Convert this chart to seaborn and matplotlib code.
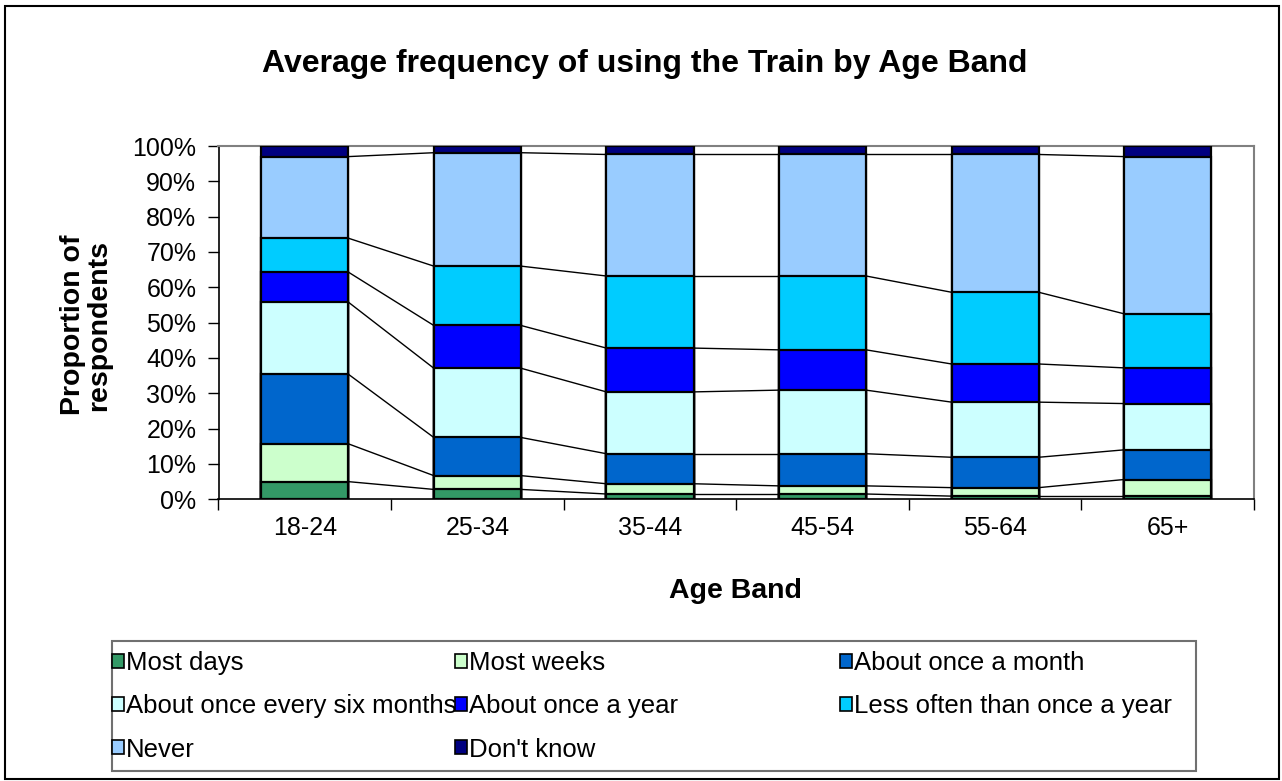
import pandas as pd
import numpy as np
import matplotlib.pyplot as plt
import matplotlib.patches as mpatches
import seaborn as sns

# Datos (porcentaje de encuestados)
age_bands = ['18-24', '25-34', '35-44', '45-54', '55-64', '65+']
categories = ['Most days', 'Most weeks', 'About once a month',
              'About once every six months', 'About once a year',
              'Less often than once a year', 'Never', "Don't know"]
most_days = [5.0, 2.8, 1.5, 1.5, 0.9, 0.9]
most_weeks = [10.7, 3.9, 2.9, 2.3, 2.4, 4.7]
once_month = [19.7, 10.8, 8.5, 9.1, 8.6, 8.4]
six_months = [20.4, 19.6, 17.5, 18.0, 15.6, 13.1]
once_year = [8.5, 12.1, 12.4, 11.4, 10.8, 10.1]
less_often = [9.6, 16.8, 20.4, 20.9, 20.3, 15.3]
never = [23.1, 32.1, 34.4, 34.4, 39.0, 44.5]
dont_know = [3.0, 1.9, 2.4, 2.4, 2.4, 3.0]
colors = ['#339966', '#CCFFCC', '#0066CC', '#CCFFFF',
          '#0000FF', '#00CCFF', '#99CCFF', '#000080']

series = [most_days, most_weeks, once_month, six_months,
          once_year, less_often, never, dont_know]
cum = np.cumsum(np.array(series), axis=0)

rows = []
for k, cat in enumerate(categories):
    for i, age in enumerate(age_bands):
        rows.append({'age': age, 'category': cat, 'cum': cum[k][i]})
df = pd.DataFrame(rows)

sns.set_theme(style='ticks')
plt.rcParams['font.family'] = ['Liberation Sans', 'DejaVu Sans']
plt.rcParams['text.color'] = 'black'
plt.rcParams['axes.labelcolor'] = 'black'

W, H = 1282, 781
fig = plt.figure(figsize=(W / 100, H / 100), dpi=100)
ax = fig.add_axes([218.5 / W, 1 - 499.3 / H, (1254 - 218.5) / W, (499.3 - 146) / H])

bar_w = 0.505
# barras apiladas: se dibuja desde la acumulada mas alta hacia abajo
for k in range(len(categories) - 1, -1, -1):
    sub = df[df['category'] == categories[k]]
    sns.barplot(data=sub, x='age', y='cum', color=colors[k], saturation=1,
                width=bar_w, edgecolor='black', linewidth=1.6, ax=ax, zorder=3)

# lineas de serie entre barras
for k in range(len(categories) - 1):
    for i in range(len(age_bands) - 1):
        ax.plot([i + bar_w / 2, i + 1 - bar_w / 2], [cum[k][i], cum[k][i + 1]],
                color='black', lw=1, zorder=2)

ax.set_xlim(-0.5, 5.5)
ax.set_ylim(0, 100)
ax.set_xlabel('')
ax.set_ylabel('')
ax.set_yticks(range(0, 101, 10))
ax.set_yticklabels([f'{v}%' for v in range(0, 101, 10)])
ax.set_xticks(range(6))
ax.set_xticklabels(age_bands)
ax.set_xticks(np.arange(-0.5, 6, 1), minor=True)
ax.tick_params(axis='y', direction='out', length=8, width=1, color='black',
               pad=8, labelsize=18, labelcolor='black')
ax.tick_params(axis='x', which='major', length=0, pad=12, labelsize=18, labelcolor='black')
ax.tick_params(axis='x', which='minor', direction='out', length=8, width=1, color='black')
for s in ['left', 'bottom']:
    ax.spines[s].set_color('black')
    ax.spines[s].set_linewidth(1.2)
for s in ['top', 'right']:
    ax.spines[s].set_visible(True)
    ax.spines[s].set_color('#808080')
    ax.spines[s].set_linewidth(1.5)

fig.text(645 / W, 1 - 72 / H, 'Average frequency of using the Train by Age Band',
         ha='center', va='baseline', fontsize=23, fontweight='bold', color='black')
fig.text(735 / W, 1 - 598 / H, 'Age Band', ha='center', va='baseline',
         fontsize=20.5, fontweight='bold', color='black')
fig.text(86 / W, 1 - 325 / H, 'Proportion of\nrespondents', ha='center', va='center',
         rotation=90, fontsize=20.5, fontweight='bold', linespacing=1.0,
         multialignment='center', color='black')

# leyenda en tres columnas
handles = [mpatches.Patch(facecolor=c, edgecolor='black', linewidth=1.2) for c in colors]
col_items = [[0, 3, 6], [1, 4, 7], [2, 5]]
col_x = [112, 455, 840]
for items, x0 in zip(col_items, col_x):
    fig.legend([handles[i] for i in items], [categories[i] for i in items],
               loc='upper left', bbox_to_anchor=(x0 / W, 1 - 651 / H),
               frameon=False, fontsize=18.5, handlelength=0.45, handleheight=0.45,
               handletextpad=0.08, labelspacing=0.75, borderpad=0, borderaxespad=0,
               labelcolor='black')

fig.patches.append(mpatches.Rectangle((112 / W, 1 - 771 / H), (1196 - 112) / W, (771 - 641) / H,
                                      transform=fig.transFigure, fill=False,
                                      edgecolor='#707070', linewidth=1.5))
fig.patches.append(mpatches.Rectangle((5 / W, 1 - 779 / H), (1279 - 5) / W, (779 - 6) / H,
                                      transform=fig.transFigure, fill=False,
                                      edgecolor='black', linewidth=1.5))

fig.savefig('out.png', dpi=100)
